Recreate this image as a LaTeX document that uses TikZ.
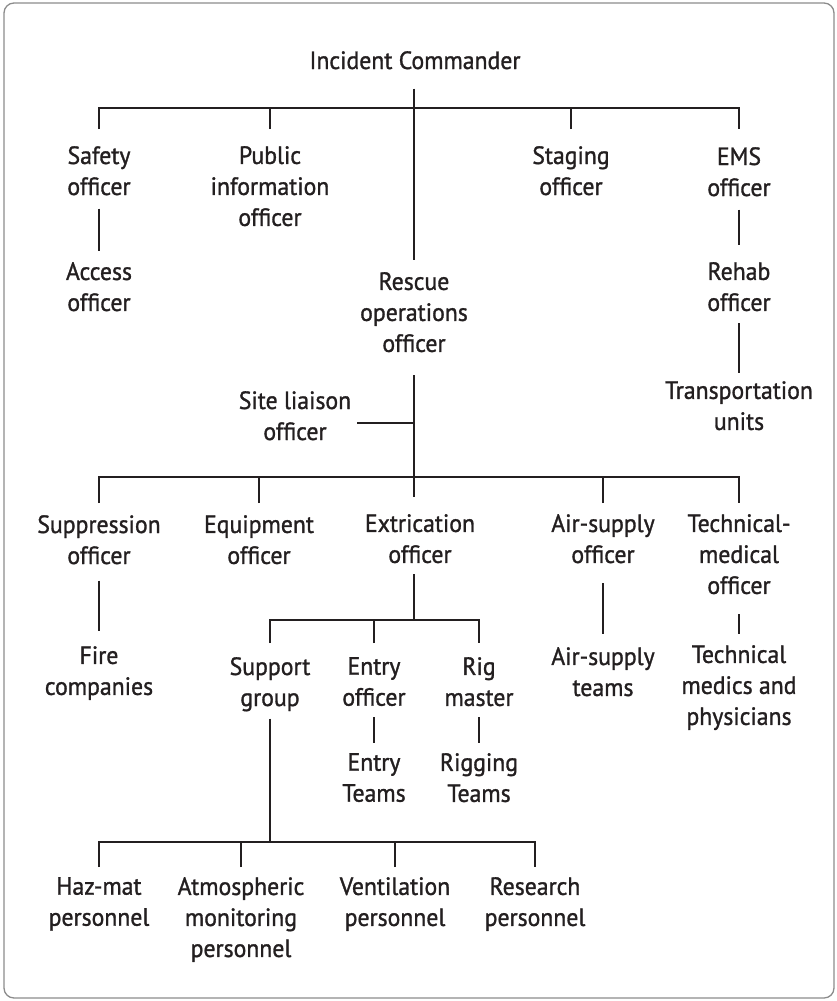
\documentclass[tikz,border=0pt]{standalone}
\usepackage{fontspec}
\setmainfont{PT Sans}[FakeStretch=0.95,FakeBold=1.2]
\usetikzlibrary{calc}
\definecolor{ink}{RGB}{35,31,32}
\definecolor{frame}{RGB}{140,140,140}
\begin{document}
\begin{tikzpicture}[x=1pt,y=-1pt,
  font=\fontsize{25}{31}\selectfont,
  role/.style={align=center,inner sep=0pt,anchor=north,text=ink},
  link/.style={draw=ink,line width=1.8pt},
]
\useasboundingbox (0,0) rectangle (837,1001);
\draw[frame,line width=1.3pt,rounded corners=10pt] (4,3) rectangle (834,998);
% command level
\node[role] (ic) at (415,51) {Incident Commander};
\node[role] (safety) at (99,146) {Safety\\officer};
\node[role] (public) at (270,146) {Public\\information\\officer};
\node[role] (staging) at (571,146) {Staging\\officer};
\node[role] (ems) at (739,147) {EMS\\officer};
\node[role] (access) at (99,262) {Access\\officer};
\node[role] (rehab) at (739,262) {Rehab\\officer};
\node[role] (transport) at (739,381) {Transportation\\units};
\node[role] (rescue) at (414,272) {Rescue\\operations\\officer};
\node[role] (site) at (295,391) {Site liaison\\officer};
% operations level
\node[role] (suppression) at (99,515) {Suppression\\officer};
\node[role] (equipment) at (259,515) {Equipment\\officer};
\node[role] (extrication) at (420,514) {Extrication\\officer};
\node[role] (airsupply) at (603,514) {Air-supply\\officer};
\node[role] (technical) at (739,514) {Technical-\\medical\\officer};
\node[role] (fire) at (99,646) {Fire\\companies};
\node[role] (airteams) at (603,647) {Air-supply\\teams};
\node[role] (techmed) at (739,645) {Technical\\medics and\\physicians};
% extrication branch
\node[role] (support) at (270,657) {Support\\group};
\node[role] (entry) at (374,657) {Entry\\officer};
\node[role] (rig) at (479,657) {Rig\\master};
\node[role] (entryteams) at (374,753) {Entry\\Teams};
\node[role] (rigteams) at (479,753) {Rigging\\Teams};
% support group
\node[role] (hazmat) at (99,877) {Haz-mat\\personnel};
\node[role] (atmos) at (241,877) {Atmospheric\\monitoring\\personnel};
\node[role] (vent) at (395,877) {Ventilation\\personnel};
\node[role] (research) at (535,877) {Research\\personnel};
% command chain
\draw[link] ($(ic.south -| rescue.north)+(0,19)$) -- ($(rescue.north)+(0,-12)$);
\draw[link] ($(safety.north)+(0,-17)$) -- ++(0,-21) -| ($(ems.north)+(0,-18)$);
\draw[link] ($(public.north)+(0,-17)$) -- ++(0,-21);
\draw[link] ($(staging.north)+(0,-17)$) -- ++(0,-21);
\draw[link,shorten <=13pt,shorten >=11pt] (safety) -- (access);
\draw[link,shorten <=13pt,shorten >=17pt] (ems) -- (rehab);
\draw[link,shorten <=12pt,shorten >=8pt] (rehab) -- (transport);
% rescue operations
\coordinate (sitejoin) at (414,423);
\draw[link] ($(rescue.south)+(0,23)$) -- ($(rescue.south |- extrication.north)+(0,-17)$);
\draw[link,shorten >=6pt] (sitejoin) -- (sitejoin -| site.east);
\draw[link] ($(suppression.north)+(0,-12)$) -- ++(0,-26) -| ($(technical.north)+(0,-11)$);
\draw[link] ($(equipment.north)+(0,-12)$) -- ++(0,-26);
\draw[link] ($(airsupply.north)+(0,-11)$) -- ++(0,-26);
\draw[link,shorten <=16pt,shorten >=15pt] (suppression) -- (fire);
\draw[link,shorten <=20pt,shorten >=13pt] (airsupply) -- (airteams);
\draw[link,shorten <=20pt,shorten >=11pt] (technical) -- (techmed);
% extrication branch
\coordinate (exbar) at (414,620);
\draw[link] ($(extrication.south -| exbar)+(0,11)$) -- (exbar);
\draw[link] ($(support.north)+(0,-14)$) -- ++(0,-23) -| ($(rig.north)+(0,-14)$);
\draw[link] ($(entry.north)+(0,-14)$) -- ++(0,-23);
\draw[link,shorten <=11pt,shorten >=10pt] (entry) -- (entryteams);
\draw[link,shorten <=11pt,shorten >=10pt] (rig) -- (rigteams);
% support group
\coordinate (supbar) at (270,842);
\draw[link] ($(support.south)+(0,7)$) -- (supbar);
\draw[link] ($(hazmat.north)+(0,-10)$) -- ++(0,-25) -| ($(research.north)+(0,-10)$);
\draw[link] ($(atmos.north)+(0,-10)$) -- ++(0,-25);
\draw[link] ($(vent.north)+(0,-10)$) -- ++(0,-25);
\end{tikzpicture}
\end{document}
